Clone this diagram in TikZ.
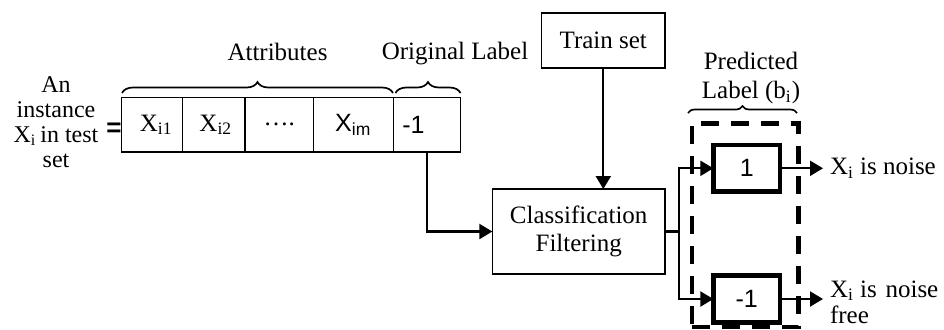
\documentclass[tikz,border=0pt]{standalone}
\usepackage{fontspec}
\setmainfont{Liberation Serif}
\setsansfont{Liberation Sans}
\usetikzlibrary{arrows.meta,decorations.pathreplacing}
\begin{document}
\begin{tikzpicture}[x=0.5pt,y=-0.5pt,
  font=\fontsize{12.5}{13}\selectfont,
  every node/.style={inner sep=0pt, outer sep=0pt},
  line/.style={line width=1.1pt},
  arr/.style={line width=1.1pt,-{Triangle[length=6.5pt,width=7.5pt]}},
  cell/.style={draw,line width=0.7pt,minimum height=27.15pt},
  box/.style={draw,line width=0.8pt},
  lblbox/.style={draw,line width=2.2pt,minimum width=33.35pt,minimum height=23.35pt,
    font=\sffamily\fontsize{12.5}{13}\selectfont},
  dashbox/.style={draw,line width=2.2pt,dash pattern=on 9pt off 6pt,
    minimum width=53.3pt,minimum height=101.85pt},
  brc/.style={decorate,decoration={brace,amplitude=5.5pt},line width=0.85pt},
  sfnum/.style={font=\sffamily\fontsize{12.5}{13}\selectfont},
]
\useasboundingbox (0,0) rectangle (944,329);

% instance row: attributes and original label
\node[cell,minimum width=30.5pt]  (c1) at (152.2,124.8) {\hspace{4pt}X\textsubscript{i1}};
\node[cell,minimum width=31.15pt] (c2) at (213.8,124.8) {\hspace{2pt}X\textsubscript{i2}};
\node[cell,minimum width=34.15pt] (c3) at (279.2,124.8) {….};
\node[cell,minimum width=40pt,sfnum] (c4) at (353.3,124.8) {X\textsubscript{im}};
\node[cell,minimum width=33.7pt]  (c5) at (427,124.8) {};
\node[sfnum] (c5t) at (413.5,124.8) {-1};

% left caption
\node[align=center,font=\fontsize{12}{12.4}\selectfont] (inst) at (56,122)
  {An\\instance\\X\textsubscript{i}\hspace{-1pt} in test\\set};
\node[font=\sffamily\bfseries\fontsize{13}{13}\selectfont] (eq) at (114,130) {=};

% braces and their titles
\draw[brc] (122,93) -- (393,93);
\draw[brc] (395.5,93) -- (460.5,93);
\node[anchor=base] (attr) at (277.5,60.7) {Attributes};
\node[anchor=base] (orig) at (455,59.5) {Original Label};

% processing boxes
\node[box,minimum width=61.65pt,minimum height=27.5pt] (ts) at (603.3,40.2) {Train set};
\node[box,minimum width=86.35pt,minimum height=42.5pt,align=center,
  font=\fontsize{12.5}{14}\selectfont] (cf) at (578.7,231.5) {Classification\\Filtering};

% predicted label group
\node[dashbox] (pl) at (745,225.2) {};
\node[lblbox] (p1) at (746.7,168.3) {1};
\node[lblbox] (pm) at (746.7,299) {-1};
\draw[brc,decoration={amplitude=3.5pt}] (688,113) -- (797,113);
\node[align=center,font=\fontsize{12.5}{14.5}\selectfont] (pred) at (751,78)
  {Predicted\\Label (b\textsubscript{i})};

% outcomes
\node[anchor=west,inner xsep=3.5pt] (n1) at (823,168.3) {X\textsubscript{i} is noise};
\node[anchor=west,inner xsep=3.5pt,align=left,font=\fontsize{12.5}{13}\selectfont] (n2) at (823,302)
  {X\textsubscript{i} is\hspace{0.35em}noise\\free};

% connectors
\draw[arr] (c5.south) |- (cf.west);
\draw[arr] (ts.south) -- (ts.south |- cf.north);
\coordinate (sp) at (679,231.5);
\draw[line] (cf.east) -- (sp);
\draw[arr] (sp) |- (p1.west);
\draw[arr] (sp) |- (pm.west);
\draw[arr] (p1.east) -- (p1.east -| n1.west);
\draw[arr] (pm.east) -- (pm.east -| n2.west);
\end{tikzpicture}
\end{document}
